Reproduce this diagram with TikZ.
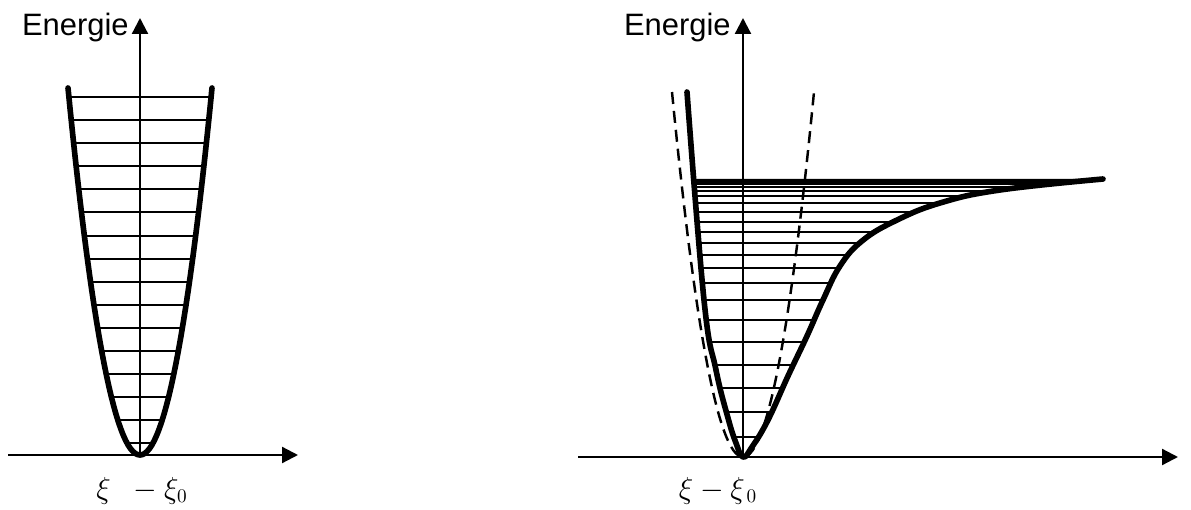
\documentclass[tikz,border=0pt]{standalone}
\usepackage{fontspec}
\setmainfont{Liberation Sans}
\usetikzlibrary{arrows.meta, intersections, backgrounds}

\begin{document}
\begin{tikzpicture}[
        x=0.02cm, y=-0.02cm,
        axis/.style={draw, line width=1.3pt, -{Triangle[length=0.32cm, width=0.32cm]}},
        curve/.style={draw, line width=3.2pt, line join=round, line cap=round},
        level/.style={draw, line width=1.1pt},
        harmonic/.style={draw, line width=1.4pt, dash pattern=on 0.24cm off 0.14cm},
        axislabel/.style={font=\fontsize{17.6}{21}\selectfont, anchor=base east, inner sep=0pt},
        coordlabel/.style={font=\fontsize{16}{19}\selectfont, anchor=base, inner sep=0pt}
    ]
    \useasboundingbox (0,0) rectangle (1191,510);

    % left: harmonic oscillator
    \coordinate (o1) at (140,455);
    \coordinate (x1a) at (8,455);
    \coordinate (x1b) at (298,455);
    \coordinate (e1) at (140,18);
    \foreach \n in {0,...,15} {
        \pgfmathsetmacro{\h}{(\n+0.5)*23.1}
        \pgfmathsetmacro{\w}{sqrt(\h/0.0708)}
        \draw[level] ({140-\w},{455-\h}) -- ({140+\w},{455-\h});
    }
    \draw[curve] plot[domain=-72:72, samples=61] ({140+\x},{455-0.0708*\x*\x});
    \draw[axis] (x1a) -- (x1b);
    \draw[axis] (o1) -- (e1);
    \node[axislabel] (en1) at (129,36) {Energie};
    \node[coordlabel] (xi1) at (142,498) {$\xi\ \;-\xi_0$};

    % right: Morse potential
    \coordinate (o2) at (743,457);
    \coordinate (x2a) at (578,457);
    \coordinate (x2b) at (1178,457);
    \coordinate (e2) at (743,18);
    \draw[harmonic] plot[domain=-71:71, samples=61] ({743+\x},{457-0.0724*\x*\x});
    \draw[curve, name path=morse] plot[smooth, tension=0.7] coordinates {
        (687,92) (704,300) (716,370) (728,418) (736,443) (743,457) (752,447)
        (768,420) (788,376) (807,336) (823,300) (840,266) (862,241) (895,221)
        (940,203) (1000,190) (1103,179)};
    \begin{pgfonlayer}{background}
        \foreach \h in {20,45,69,92,115,137,157,174,189,202,214,225,235,245,254,261,266,270,273,275,276.3,277.2} {
            \path[name path=lv] (600,{457-\h}) -- (1180,{457-\h});
            \draw[level, name intersections={of=lv and morse, sort by=lv}] (intersection-1) -- (intersection-2);
        }
    \end{pgfonlayer}
    \draw[axis] (x2a) -- (x2b);
    \draw[axis] (o2) -- (e2);
    \node[axislabel] (en2) at (731,36) {Energie};
    \node[coordlabel] (xi2) at (718,498) {$\xi-\xi_{\,0}$};
\end{tikzpicture}
\end{document}
